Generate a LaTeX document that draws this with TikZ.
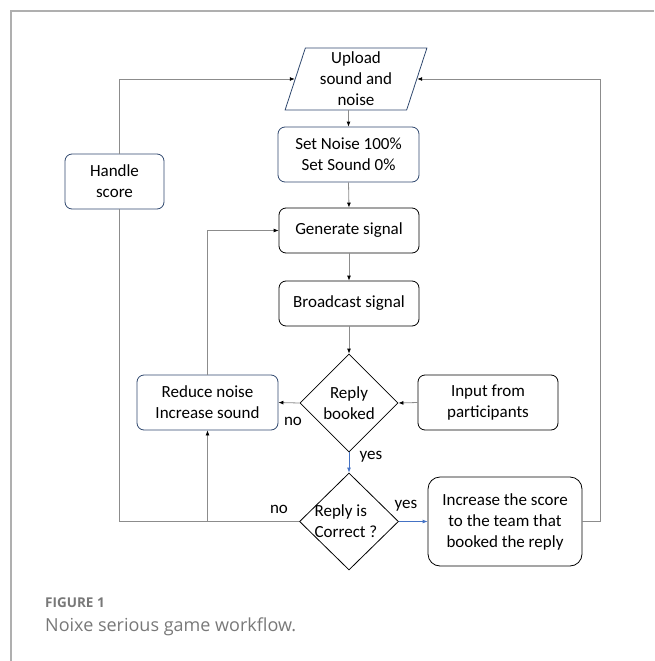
\documentclass[tikz,border=0pt]{standalone}
\usepackage{fontspec}
\setmainfont{Carlito}
\newfontfamily\capfont{Open Sans}
\usetikzlibrary{shapes.geometric,arrows.meta}
\definecolor{boxblue}{RGB}{47,72,110}
\definecolor{linegray}{RGB}{140,140,140}
\definecolor{yesblue}{RGB}{68,114,196}
\definecolor{framegray}{RGB}{175,175,175}
\definecolor{capgray}{RGB}{120,120,120}
\tikzset{
  box/.style={draw=black, rounded corners=7pt, line width=0.8pt, align=center, inner sep=0pt, font=\fontsize{17}{21}\selectfont},
  bluebox/.style={box, draw=boxblue},
  dia/.style={draw=black, diamond, line width=0.8pt, inner sep=0pt},
  lbl/.style={font=\fontsize{17}{21}\selectfont, align=center},
  conn/.style={draw=linegray, line width=0.8pt, -{Latex[length=5pt,width=4pt,color=black]}},
  plain/.style={draw=linegray, line width=0.8pt},
  yes/.style={draw=yesblue, line width=0.8pt, -{Latex[length=5pt,width=4pt,color=yesblue]}},
}
\begin{document}
\begin{tikzpicture}[x=1pt,y=-1pt]
\useasboundingbox (0,0) rectangle (654,661);
% frame
\draw[framegray, line width=1.5pt] (11,661) -- (11,11) -- (654,11);
% nodes
\node[draw=boxblue, line width=0.8pt, trapezium, trapezium left angle=75, trapezium right angle=105,
      trapezium stretches=true, minimum width=142, minimum height=62, inner sep=0pt,
      align=center, font=\fontsize{17}{21}\selectfont] (upload) at (356,79) {Upload\\sound and\\noise};
\node[bluebox, minimum width=141, minimum height=55] (setnoise) at (348.5,154.5) {Set Noise 100\%\\Set Sound 0\%};
\node[bluebox, minimum width=99, minimum height=55] (handle) at (114.5,181.5) {Handle\\score};
\node[box, minimum width=140, minimum height=45] (gen) at (349,230.5) {Generate signal};
\node[box, minimum width=140, minimum height=45] (broad) at (349,303.5) {Broadcast signal};
\node[dia, minimum width=98, minimum height=98] (booked) at (349,403) {};
\node[lbl] (bookedtxt) at (349,403) {Reply\\booked};
\node[bluebox, minimum width=141, minimum height=55] (reduce) at (207.5,402.5) {Reduce noise\\Increase sound};
\node[box, minimum width=140, minimum height=55] (input) at (488,402.5) {Input from\\participants};
\node[dia, minimum width=99, minimum height=97] (correct) at (349,521.5) {};
\node[lbl, align=left] (correcttxt) at (346,521.5) {Reply is\\Correct ?};
\node[box, rounded corners=12pt, minimum width=154, minimum height=89] (increase) at (505,521.5) {Increase the score\\to the team that\\booked the reply};
% helper coordinates
\coordinate (lc) at (119,521.5);
\coordinate (rc) at (600,521.5);
\coordinate (br) at (reduce.south |- correct.west);
% connectors
\draw[conn] (setnoise.north |- upload.south) -- (setnoise.north);
\draw[conn] (setnoise.south) -- (gen.north);
\draw[conn] (gen.south) -- (broad.north);
\draw[conn] (broad.south) -- (booked.north);
\draw[conn] (input.west) -- (booked.east);
\draw[conn] (booked.west) -- (reduce.east);
\draw[conn] (reduce.north) |- (gen.west);
\draw[yes] (booked.south) -- (correct.north);
\draw[yes] (correct.east) -- (increase.west);
\draw[plain] (correct.west) -- (lc) -- (lc |- handle.south);
\draw[conn] (lc |- handle.north) |- (upload.west);
\draw[conn] (br) -- (reduce.south);
\draw[conn] (increase.east) -- (rc) |- (upload.east);
% labels
\node[lbl] (l1) at (293,421) {no};
\node[lbl] (l2) at (371,457) {yes};
\node[lbl] (l3) at (279,509) {no};
\node[lbl] (l4) at (406,506) {yes};
% caption
\node[anchor=base west, inner sep=0pt, text=capgray, font=\capfont\bfseries\fontsize{13.5}{16}\selectfont] (figlbl) at (45,607) {FIGURE 1};
\node[anchor=base west, inner sep=0pt, text=capgray, font=\capfont\fontsize{18}{22}\selectfont] (figcap) at (45,631) {Noixe serious game workflow.};
\end{tikzpicture}
\end{document}
